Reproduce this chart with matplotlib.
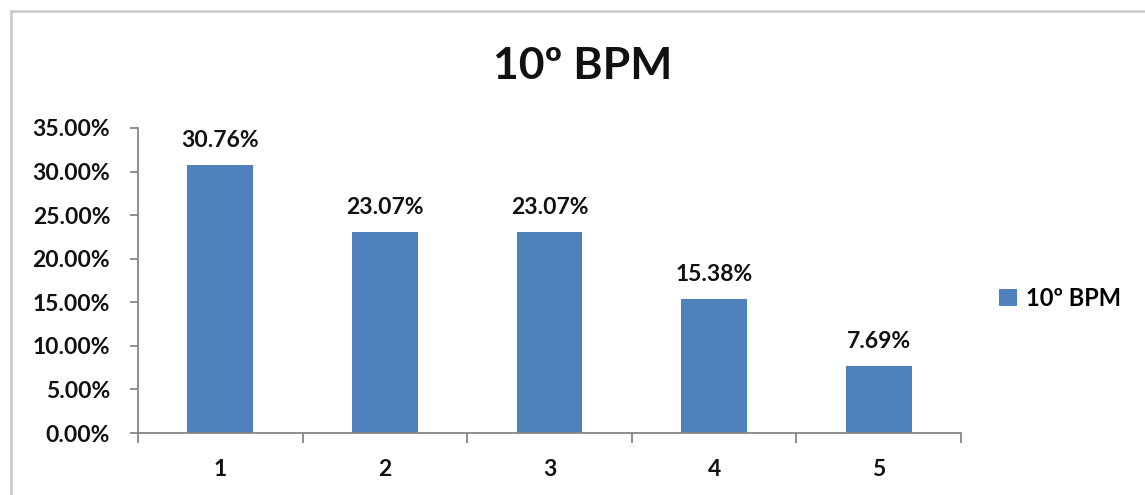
import matplotlib
matplotlib.use("Agg")
import matplotlib.pyplot as plt
from matplotlib.patches import Rectangle
from matplotlib.ticker import FixedLocator, FuncFormatter

categories = ["1", "2", "3", "4", "5"]
values = [30.76, 23.07, 23.07, 15.38, 7.69]
series_name = "10º BPM"
title = "10º BPM"
y_ticks = [0, 5, 10, 15, 20, 25, 30, 35]

plt.rcParams["font.family"] = ["Lato", "DejaVu Sans"]
plt.rcParams["font.weight"] = "bold"

W, H = 1145, 495
fig = plt.figure(figsize=(W / 100, H / 100), dpi=100)

# outer chart frame
fig.patches.append(Rectangle((11 / W, -0.1), 1.2, 1 - 11 / H + 0.1,
                             transform=fig.transFigure, fill=False,
                             edgecolor="#c8c8c8", linewidth=1.8))

ax = fig.add_axes([138 / W, (H - 433) / H, (961 - 138) / W, (433 - 128) / H])
bar_color = "#4F81BD"
x = list(range(1, len(categories) + 1))
bars = ax.bar(x, values, width=0.4, color=bar_color, label=series_name)

for xi, v in zip(x, values):
    ax.annotate(f"{v:.2f}%", (xi, v), xytext=(0, 10), textcoords="offset points",
                ha="center", va="bottom", fontsize=16.5, fontweight="bold", color="#111111")

ax.set_xlim(0.5, len(categories) + 0.5)
ax.set_ylim(0, 35)
ax.yaxis.set_major_locator(FixedLocator(y_ticks))
ax.yaxis.set_major_formatter(FuncFormatter(lambda v, p: f"{v:.2f}%"))
ax.set_xticks(x)
ax.set_xticklabels(categories)
ax.xaxis.set_minor_locator(FixedLocator([i + 0.5 for i in range(0, len(categories) + 1)]))

spine_color = "#868686"
for s in ["top", "right"]:
    ax.spines[s].set_visible(False)
for s in ["left", "bottom"]:
    ax.spines[s].set_color(spine_color)
    ax.spines[s].set_linewidth(1.3)

ax.tick_params(axis="y", direction="out", length=6, width=1.3, color=spine_color,
               labelsize=16.5, pad=14, labelcolor="#111111")
ax.tick_params(axis="x", which="major", length=0, labelsize=16.5, pad=19, labelcolor="#111111")
ax.tick_params(axis="x", which="minor", direction="out", length=7, width=1.3, color=spine_color)
for lab in ax.get_xticklabels() + ax.get_yticklabels():
    lab.set_fontweight("bold")

fig.text(583 / W, 1 - 66 / H, title, ha="center", va="center",
         fontsize=32, fontweight="bold", color="#111111")

fig.legend(handles=[bars], labels=[series_name], loc="center left",
           bbox_to_anchor=(992 / W, 1 - 298 / H), frameon=False,
           handlelength=0.75, handleheight=0.75, handletextpad=0.4,
           borderpad=0.3, borderaxespad=0.0,
           prop={"weight": "bold", "size": 17})

fig.savefig("out.png", dpi=100, facecolor="white")
